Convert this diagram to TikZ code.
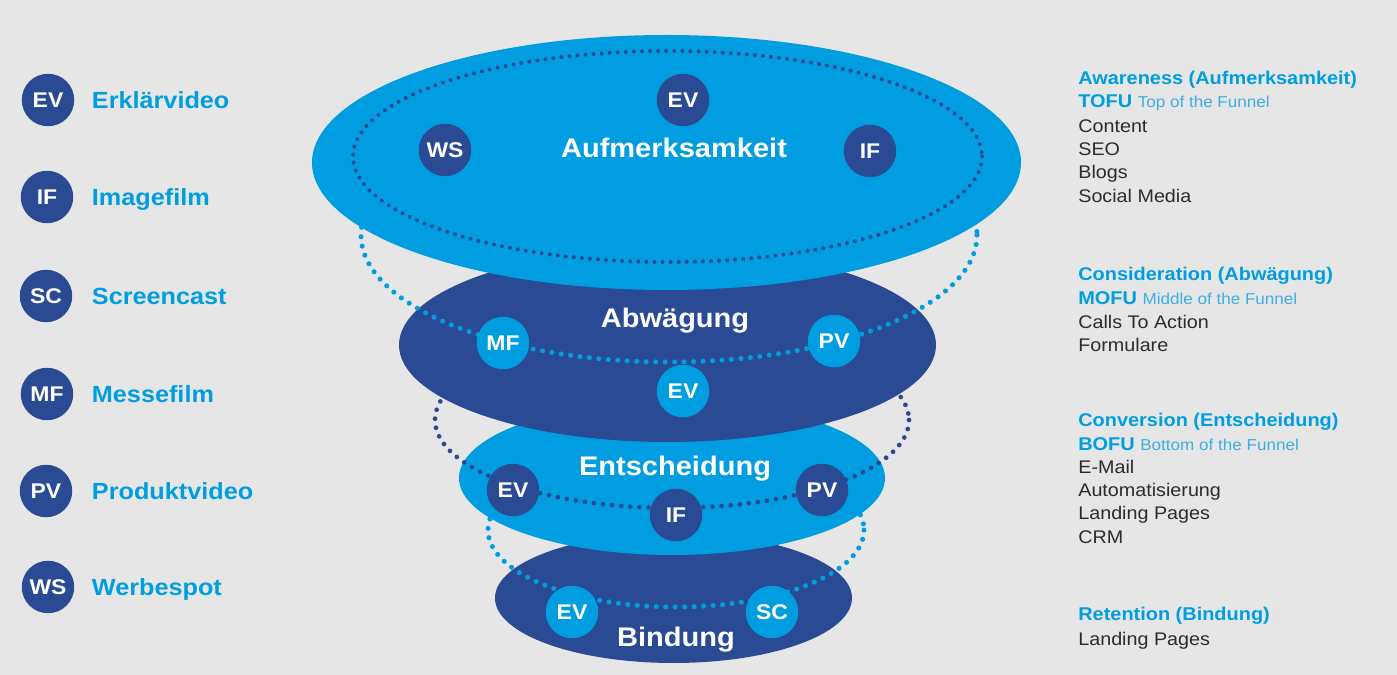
\documentclass[tikz,border=0pt]{standalone}
\usepackage{fontspec}
\setmainfont{Liberation Sans}[FakeStretch=1.08]
\usepackage{xcolor}
\usepackage{tikz}
\usetikzlibrary{positioning}
\definecolor{bg}{HTML}{E6E6E6}
\definecolor{lblue}{HTML}{009EE0}
\definecolor{dblue}{HTML}{2A4B93}
\definecolor{sub}{HTML}{3DAEE2}
\definecolor{ink}{HTML}{2B2B2B}
\tikzset{
  dc/.style={circle, fill=dblue, minimum size=1.05cm, inner sep=0pt, text=white,
    font=\fontsize{12.1}{14}\selectfont\bfseries},
  lc/.style={dc, fill=lblue},
  stage/.style={anchor=base, inner sep=0pt, text=white, font=\fontsize{15.3}{18}\selectfont\bfseries},
  leg/.style={anchor=west, inner sep=0pt, yshift=-0.05cm, text=lblue, text height=0.72em, text depth=0pt,
    font=\fontsize{13.3}{16}\selectfont\bfseries},
  head/.style={anchor=base west, inner sep=0pt, text=lblue, font=\fontsize{10.5}{12}\selectfont\bfseries},
  item/.style={anchor=base west, inner sep=0pt, text=ink, font=\fontsize{10.4}{12}\selectfont},
  dotl/.style={draw=lblue, line width=2.9pt, line cap=round, dash pattern=on 0pt off 5.4pt},
  dotd/.style={draw=dblue, line width=2.3pt, line cap=round, dash pattern=on 0pt off 4.6pt},
  dotdb/.style={dotd, line width=2.7pt, dash pattern=on 0pt off 5.2pt}
}
\newcommand{\funsub}[1]{{\mdseries\color{sub}\fontsize{9}{10}\selectfont #1}}

\begin{document}
\begin{tikzpicture}[x=0.02cm, y=-0.02cm]
  \fill[bg] (0,0) rectangle (1397,675);
  \useasboundingbox (0,0) rectangle (1397,675);

  % funnel, from the bottom layer up
  \fill[dblue] (673.5,598) ellipse (178.5 and 65);
  \draw[dotl] (676,530) ellipse (188 and 77);
  \fill[lblue] (672,478) ellipse (213 and 77);
  \draw[dotdb] (672,420) ellipse (237 and 88);
  \fill[dblue] (667.5,345) ellipse (268.5 and 97);
  \draw[dotl] (669,235) ellipse (308 and 127);
  \fill[lblue] (666.5,162.5) ellipse (354.5 and 127.5);
  \draw[dotd] (667.5,156.5) ellipse (314.5 and 105.5);

  % Aufmerksamkeit
  \node[stage] (st1) at (674,158) {Aufmerksamkeit};
  \node[dc] (ev1) at (683,100) {EV};
  \node[dc] (ws1) at (445,150) {WS};
  \node[dc] (if1) at (870,151) {IF};

  % Abwaegung
  \node[stage] (st2) at (675,328) {Abwägung};
  \node[lc] (mf2) at (503,343) {MF};
  \node[lc] (pv2) at (834,341) {PV};
  \node[lc] (ev2) at (683,391) {EV};

  % Entscheidung
  \node[stage] (st3) at (675,476) {Entscheidung};
  \node[dc] (ev3) at (513,490) {EV};
  \node[dc] (if3) at (676,515) {IF};
  \node[dc] (pv3) at (822,490) {PV};

  % Bindung
  \node[stage] (st4) at (676,646) {Bindung};
  \node[lc] (ev4) at (572,612) {EV};
  \node[lc] (sc4) at (772,612) {SC};

  % legend
  \node[dc] (lgEV) at (48,100) {EV};
  \node[dc] (lgIF) at (47,197) {IF};
  \node[dc] (lgSC) at (46,296) {SC};
  \node[dc] (lgMF) at (47,394) {MF};
  \node[dc] (lgPV) at (46,491) {PV};
  \node[dc] (lgWS) at (48,587) {WS};
  \node[leg, right=0.34cm of lgEV] (lbEV) {Erklärvideo};
  \node[leg, right=0.36cm of lgIF] (lbIF) {Imagefilm};
  \node[leg, right=0.38cm of lgSC] (lbSC) {Screencast};
  \node[leg, right=0.36cm of lgMF] (lbMF) {Messefilm};
  \node[leg, right=0.38cm of lgPV] (lbPV) {Produktvideo};
  \node[leg, right=0.34cm of lgWS] (lbWS) {Werbespot};

  % stages on the right
  \node[head] (hAw) at (1078,85) {Awareness (Aufmerksamkeit)};
  \node[head] (hTo) at (1078,108) {TOFU \funsub{Top of the Funnel}};
  \node[item] (iAw1) at (1078,133) {Content};
  \node[item] (iAw2) at (1078,156) {SEO};
  \node[item] (iAw3) at (1078,179) {Blogs};
  \node[item] (iAw4) at (1078,203) {Social Media};

  \node[head] (hCo) at (1078,281) {Consideration (Abwägung)};
  \node[head] (hMo) at (1078,305) {MOFU \funsub{Middle of the Funnel}};
  \node[item] (iCo1) at (1078,329) {Calls To Action};
  \node[item] (iCo2) at (1078,352) {Formulare};

  \node[head] (hCv) at (1078,427) {Conversion (Entscheidung)};
  \node[head] (hBo) at (1078,451) {BOFU \funsub{Bottom of the Funnel}};
  \node[item] (iCv1) at (1078,474) {E-Mail};
  \node[item] (iCv2) at (1078,497) {Automatisierung};
  \node[item] (iCv3) at (1078,520) {Landing Pages};
  \node[item] (iCv4) at (1078,543) {CRM};

  \node[head] (hRe) at (1078,621) {Retention (Bindung)};
  \node[item] (iRe1) at (1078,645) {Landing Pages};
\end{tikzpicture}
\end{document}
